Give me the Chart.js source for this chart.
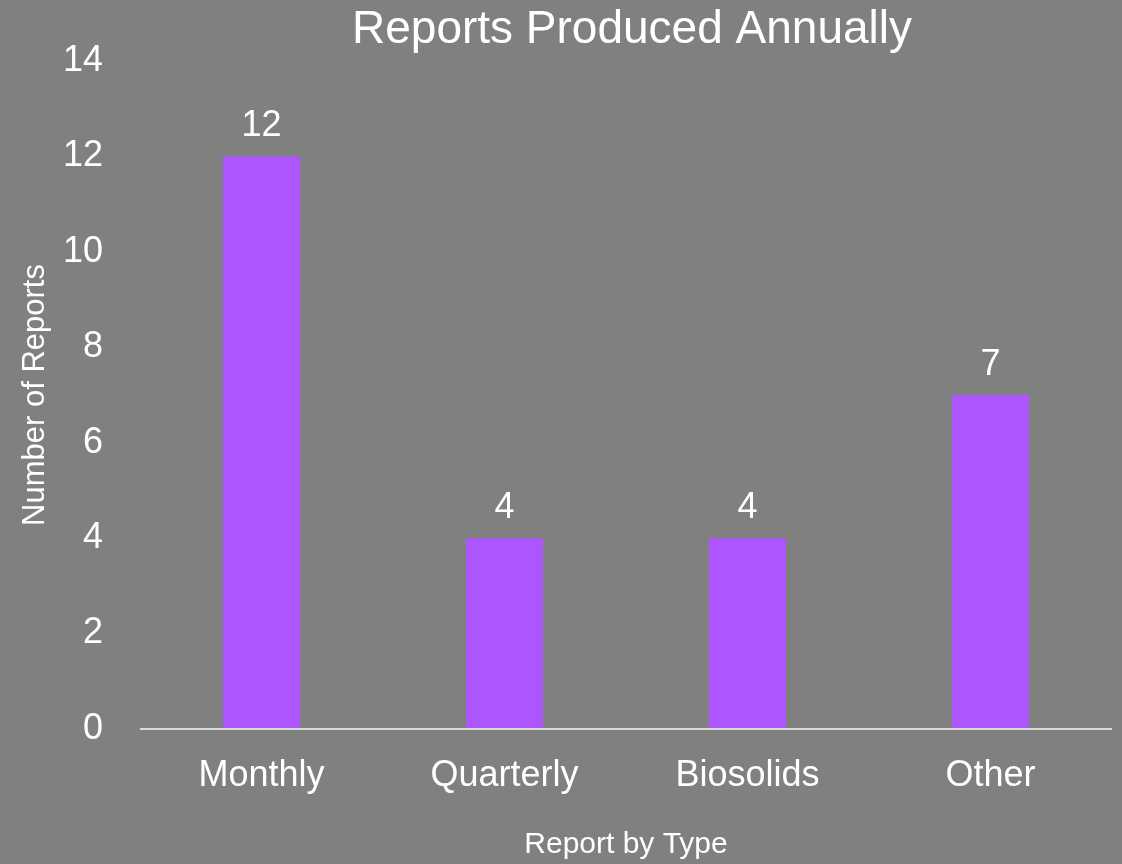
<!DOCTYPE html>
<html>
<head>
<meta charset="utf-8">
<script src="https://cdn.jsdelivr.net/npm/chart.js@4"></script>
<style>
html,body{margin:0;padding:0;background:#808080;}
canvas{display:block;}
</style>
</head>
<body>
<canvas id="c" width="1122" height="864"></canvas>
<script>
const categories = ["Monthly", "Quarterly", "Biosolids", "Other"];
const reportCounts = [12, 4, 4, 7];
const chartTitle = "Reports Produced Annually";
const xAxisTitle = "Report by Type";
const yAxisTitle = "Number of Reports";

const FONT = "'Liberation Sans', Arial, sans-serif";

const bgPlugin = {
  id: 'bg',
  beforeDraw(chart) {
    const ctx = chart.ctx;
    ctx.save();
    ctx.fillStyle = '#808080';
    ctx.fillRect(0, 0, chart.width, chart.height);
    ctx.restore();
  }
};

const titlePlugin = {
  id: 'customTitle',
  afterDraw(chart) {
    const ctx = chart.ctx;
    const area = chart.chartArea;
    ctx.save();
    ctx.fillStyle = '#ffffff';
    ctx.font = '46px ' + FONT;
    ctx.textAlign = 'center';
    ctx.textBaseline = 'alphabetic';
    ctx.fillText(chartTitle, (area.left + area.right) / 2 + 6, 43);
    ctx.restore();
  }
};

const labelPlugin = {
  id: 'barLabels',
  afterDatasetsDraw(chart) {
    const ctx = chart.ctx;
    const meta = chart.getDatasetMeta(0);
    ctx.save();
    ctx.fillStyle = '#ffffff';
    ctx.font = '36px ' + FONT;
    ctx.textAlign = 'center';
    ctx.textBaseline = 'alphabetic';
    meta.data.forEach((bar, i) => {
      ctx.fillText(String(chart.data.datasets[0].data[i]), bar.x, bar.y - 20);
    });
    ctx.restore();
  }
};

new Chart(document.getElementById('c'), {
  type: 'bar',
  data: {
    labels: categories,
    datasets: [{
      data: reportCounts,
      backgroundColor: '#AD55FF',
      borderWidth: 0,
      categoryPercentage: 1,
      barPercentage: 0.317
    }]
  },
  options: {
    responsive: false,
    animation: false,
    devicePixelRatio: 1,
    layout: { padding: { top: 61, right: 10, left: 0, bottom: 0 } },
    plugins: {
      legend: { display: false },
      title: { display: false },
      tooltip: { enabled: false }
    },
    scales: {
      x: {
        afterFit(scale) { scale.height = 135; },
        grid: { display: false, drawTicks: false },
        border: { display: false },
        ticks: { color: '#ffffff', font: { family: FONT, size: 36 }, padding: 25, maxRotation: 0 },
        title: {
          display: true, text: xAxisTitle, color: '#ffffff',
          font: { family: FONT, size: 30 }, padding: { top: 0, bottom: 1 }
        }
      },
      y: {
        min: 0, max: 14,
        afterFit(scale) { scale.width = 140; },
        ticks: { stepSize: 2, color: '#ffffff', font: { family: FONT, size: 36 }, padding: 37 },
        grid: {
          drawTicks: false,
          color: (ctx) => (ctx.tick && ctx.tick.value === 0) ? '#D9D9D9' : 'rgba(0,0,0,0)',
          lineWidth: 2
        },
        border: { display: false },
        title: {
          display: true, text: yAxisTitle, color: '#ffffff',
          font: { family: FONT, size: 31 }, padding: { top: 17, bottom: 0 }
        }
      }
    }
  },
  plugins: [bgPlugin, titlePlugin, labelPlugin]
});
</script>
</body>
</html>
